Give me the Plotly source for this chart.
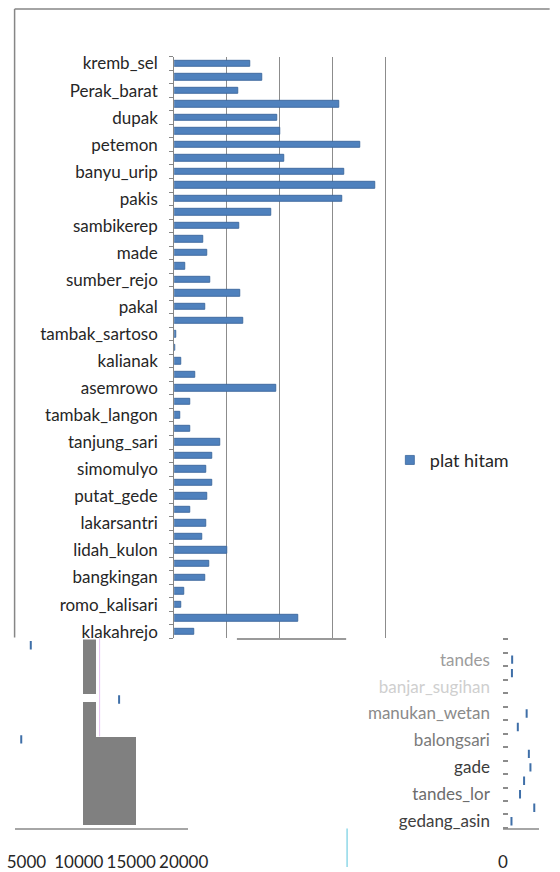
import plotly.graph_objects as go

W, H = 560, 872
FONT = "Lato"

# ---- main chart: plat hitam per kelurahan (every other category labelled) ----
kelurahan = [
    "kremb_sel", "", "Perak_barat", "", "dupak", "", "petemon", "", "banyu_urip", "",
    "pakis", "", "sambikerep", "", "made", "", "sumber_rejo", "", "pakal", "",
    "tambak_sartoso", "", "kalianak", "", "asemrowo", "", "tambak_langon", "",
    "tanjung_sari", "", "simomulyo", "", "putat_gede", "", "lakarsantri", "",
    "lidah_kulon", "", "bangkingan", "", "romo_kalisari", "", "klakahrejo",
]
plat_hitam = [
    7170, 8350, 6090, 15670, 9770, 10060, 17630, 10460, 16090, 19050,
    15940, 9190, 6180, 2780, 3170, 1020, 3380, 6300, 2920, 6540,
    150, 60, 660, 1960, 9700, 1480, 570, 1480,
    4370, 3590, 3010, 3620, 3170, 1480, 2990, 2690,
    5040, 3320, 2920, 970, 660, 11730, 1870,
]
main_ticks = [0, 5000, 10000, 15000, 20000]

# ---- lower-left panel (grey blocks and bar ends) ----
grey_pos = [2.01, 9.26, 10.54]
grey_base = [10400, 10400, 11580]
grey_len = [1180, 1180, 3800]
grey_width = [4.19, 9.12, 6.54]
left_end_x = [5420, 13840, 4510]
left_end_y = [0.43, 4.46, 7.42]
left_ticks = [5000, 10000, 15000, 20000]

# ---- lower-right panel (kecamatan Tandes) ----
tandes_names = ["", "tandes", "", "banjar_sugihan", "", "manukan_wetan", "",
                "balongsari", "", "gade", "", "tandes_lor", "", "gedang_asin"]
tandes_colors = ["#999999", "#9c9c9c", "#999999", "#cfcfcf", "#999999", "#8a8a8a", "#999999",
                 "#7a7a7a", "#999999", "#3c3c3c", "#999999", "#6c6c6c", "#999999", "#404040"]
tandes_vals = [None, 880, 860, None, None, 2260, 1420, None, 2470, 2620, 2015, 1630, 2985, 815]

BAR_BLUE = "#4F81BD"
BAR_EDGE = "#3B679C"


def px_x(p):
    return p / W


def px_y(p):
    return 1 - p / H


idx = list(range(len(kelurahan)))
t_idx = list(range(len(tandes_names)))

fig = go.Figure()

fig.add_trace(go.Bar(
    x=plat_hitam, y=idx, orientation="h", name="plat hitam",
    marker=dict(color=BAR_BLUE, line=dict(color=BAR_EDGE, width=0.9)),
    width=0.48, xaxis="x", yaxis="y", showlegend=False, legendgroup="ph",
))
# legend key drawn as a small square for the series above
fig.add_trace(go.Scatter(
    x=[None], y=[None], mode="markers", name="plat hitam", legendgroup="ph",
    marker=dict(symbol="square", size=9, color=BAR_BLUE, line=dict(color=BAR_EDGE, width=0.8)),
    xaxis="x", yaxis="y", showlegend=True,
))

fig.add_trace(go.Bar(
    x=grey_len, base=grey_base, y=grey_pos, width=grey_width, orientation="h",
    marker=dict(color="#808080", line=dict(width=0)),
    xaxis="x2", yaxis="y2", showlegend=False,
))
fig.add_trace(go.Scatter(
    x=left_end_x, y=left_end_y, mode="markers",
    marker=dict(symbol="line-ns", size=6, line=dict(color="#3F6FA8", width=2)),
    xaxis="x2", yaxis="y2", showlegend=False,
))

fig.add_trace(go.Scatter(
    x=tandes_vals, y=t_idx, mode="markers",
    marker=dict(symbol="line-ns", size=6, line=dict(color="#3F6FA8", width=2)),
    xaxis="x3", yaxis="y3", showlegend=False,
))

FS = 17
tick_font = dict(family=FONT, size=FS, color="#262626")

# main value axis: 0 at x=176 px, 20000 at x=398 px; range runs a little past
# 20000 so the last gridline stays inside the plot area
px_per_unit = (398 - 176) / 20000
main_max = 20400

fig.update_layout(
    width=W, height=H,
    margin=dict(l=0, r=0, t=0, b=0),
    paper_bgcolor="white", plot_bgcolor="rgba(0,0,0,0)",
    font=dict(family=FONT, size=FS, color="#262626"),
    bargap=0,
    xaxis=dict(
        domain=[px_x(176), px_x(176 + main_max * px_per_unit)], range=[0, main_max], anchor="y",
        tickvals=main_ticks, showticklabels=False, ticks="",
        showgrid=True, gridcolor="#8c8c8c", gridwidth=1,
        zeroline=False, showline=False, fixedrange=True,
    ),
    yaxis=dict(
        domain=[px_y(641), px_y(53.3)], range=[len(kelurahan) - 0.5, -0.5], anchor="x",
        tickvals=idx, ticktext=kelurahan, ticks="", tickfont=tick_font,
        ticklabelstandoff=12,
        minor=dict(tickvals=[i - 0.5 for i in range(len(kelurahan) + 1)],
                   ticks="outside", ticklen=4, tickcolor="#868686", tickwidth=1, showgrid=False),
        showline=True, linecolor="#868686", linewidth=1,
        showgrid=False, zeroline=False,
    ),
    xaxis2=dict(
        domain=[px_x(8), px_x(190)], range=[3877, 20362], anchor="y2",
        tickvals=left_ticks, ticktext=[str(v) for v in left_ticks], ticks="",
        tickangle=0, tickfont=tick_font, ticklabelstandoff=18,
        showline=True, linecolor="#a6a6a6", linewidth=2,
        showgrid=False, zeroline=False,
    ),
    yaxis2=dict(
        domain=[px_y(832.5), px_y(642.1)], range=[14, 0], anchor="x2",
        visible=False,
    ),
    xaxis3=dict(
        domain=[px_x(522), 1], range=[0, 3435], anchor="y3",
        tickvals=[0], ticktext=["0"], ticks="", tickangle=0,
        tickfont=tick_font, ticklabelstandoff=18,
        showline=True, linecolor="#a6a6a6", linewidth=2,
        showgrid=False, zeroline=False,
    ),
    yaxis3=dict(
        domain=[px_y(832.5), px_y(642.1)], range=[len(tandes_names) - 0.5, -0.5], anchor="x3",
        tickvals=t_idx,
        ticktext=[f'<span style="color:{c}">{n}</span>' if n else "" for n, c in zip(tandes_names, tandes_colors)],
        ticks="", tickfont=tick_font, ticklabelstandoff=12,
        minor=dict(tickvals=[i - 0.5 for i in range(len(tandes_names) + 1)],
                   ticks="inside", ticklen=5, tickcolor="#8c8c8c", tickwidth=1.5, showgrid=False),
        showline=False, showgrid=False, zeroline=False,
    ),
    legend=dict(
        x=px_x(403), y=px_y(461), xanchor="left", yanchor="middle",
        font=dict(family=FONT, size=18, color="#262626"),
        bgcolor="rgba(0,0,0,0)", borderwidth=0, itemwidth=30,
    ),
)

# chart frame and stray rule lines
frame = "#868686"
shapes = [
    dict(type="line", x0=px_x(8), x1=1.02, y0=px_y(5), y1=px_y(5), line=dict(color=frame, width=1.5)),
    dict(type="line", x0=px_x(8), x1=px_x(8), y0=px_y(5), y1=px_y(640), line=dict(color=frame, width=1.5)),
    dict(type="line", x0=px_x(242), x1=px_x(357), y0=px_y(641.7), y1=px_y(641.7), line=dict(color="#9a9a9a", width=2)),
    dict(type="line", x0=px_x(97.5), x1=px_x(97.5), y0=px_y(641), y1=px_y(740), line=dict(color="#e6c2f2", width=1)),
    dict(type="line", x0=px_x(358), x1=px_x(358), y0=px_y(833), y1=0, line=dict(color="#8fd8e8", width=1.5)),
]
for s in shapes:
    s.update(xref="paper", yref="paper", layer="above")
fig.update_layout(shapes=shapes)

fig.write_html("out.html")
